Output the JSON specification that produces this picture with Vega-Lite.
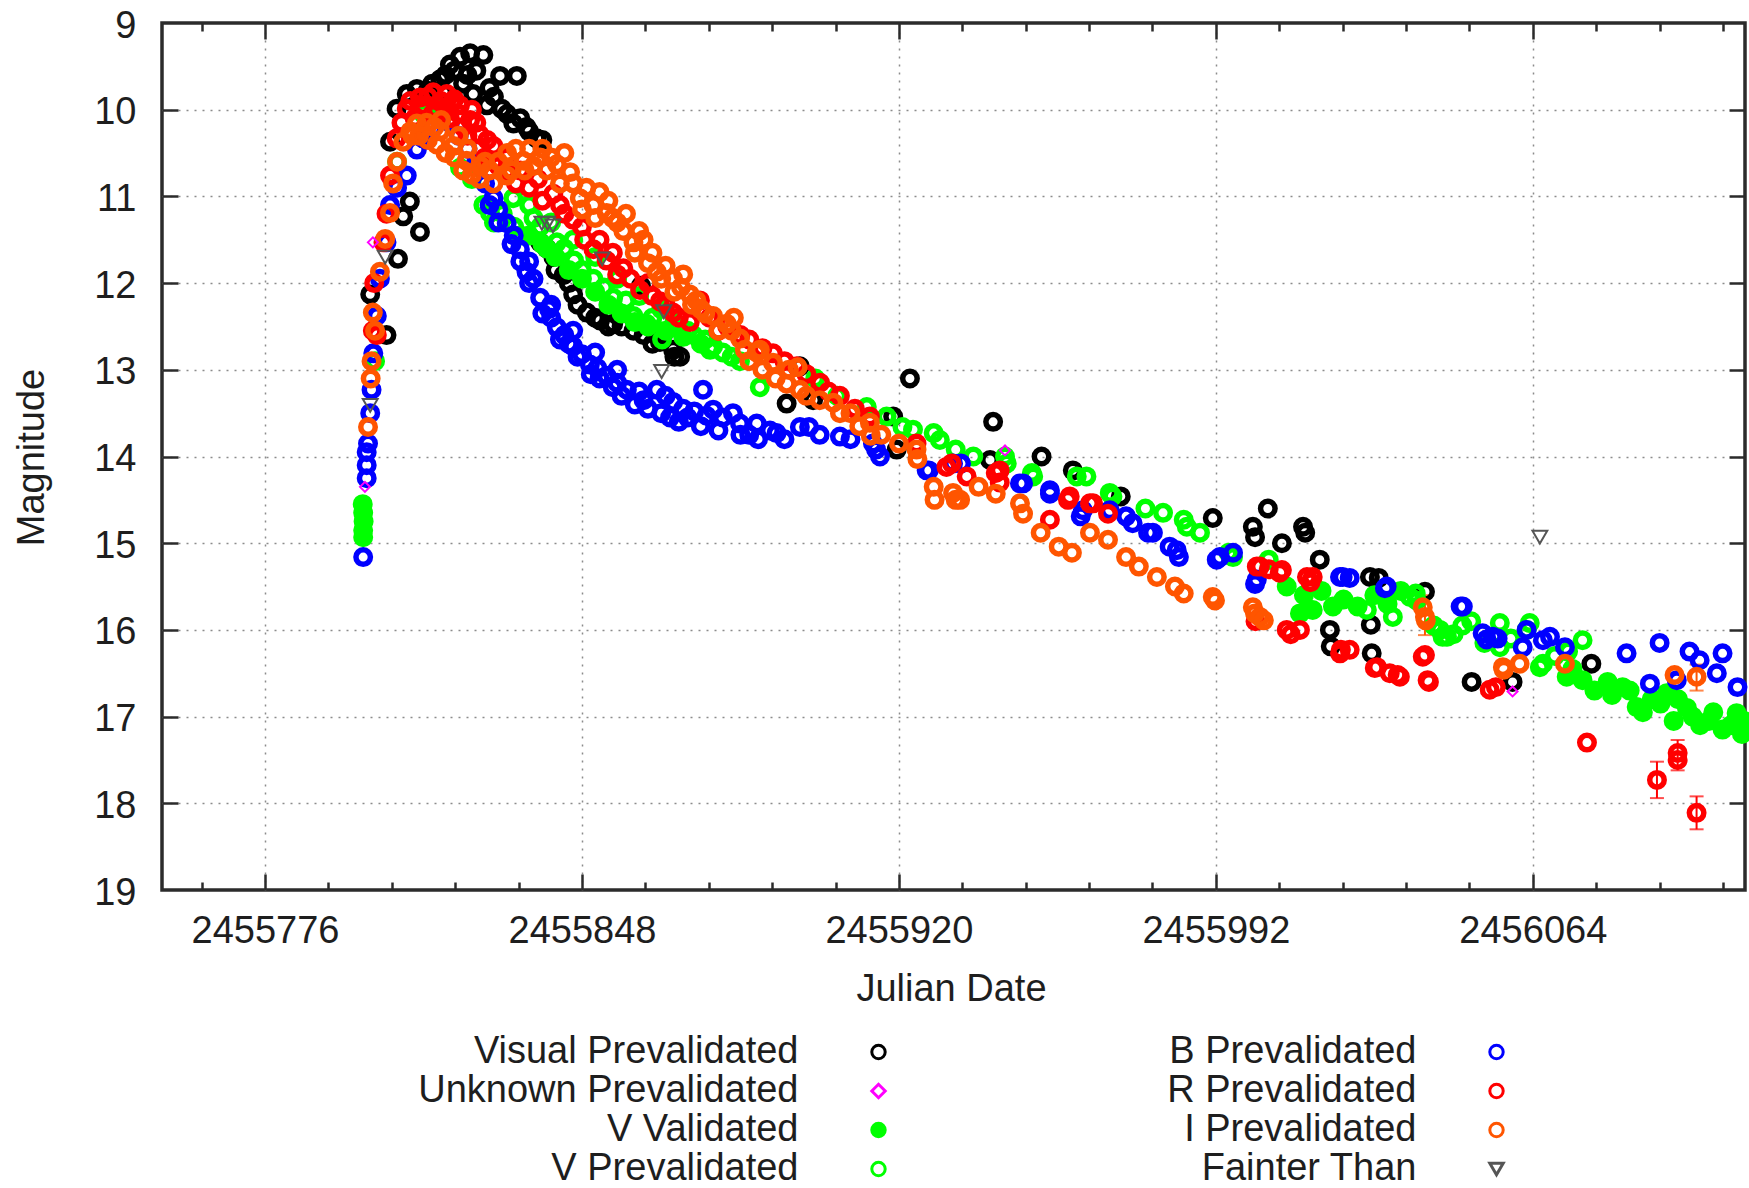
{
"$schema":"https://vega.github.io/schema/vega-lite/v6.json",
"width":1583,"height":867,
"autosize":{"type":"none"},
"padding":{"left":162,"top":23,"right":4,"bottom":298},
"background":"#ffffff",
"config":{
 "view":{"stroke":"#2b2b2b","strokeWidth":3.5},
 "axis":{"domain":false,"labelFont":"Liberation Sans","labelFontSize":38,"labelColor":"#1e1e1e","titleFont":"Liberation Sans","titleFontSize":38,"titleFontWeight":"normal","titleColor":"#1e1e1e","tickColor":"#2b2b2b","tickWidth":2.5,"gridColor":"#8c8c8c","gridDash":[2,6],"gridWidth":1.5,"gridOpacity":1,"labelOverlap":false,"labelFlush":false}
},
"datasets":{
 "ax":[{"jd":2455776,"m":10}],
 "err":[
  {"s":"R","jd":2456092.2,"lo":17.52,"hi":17.94},
  {"s":"R","jd":2456096.9,"lo":17.27,"hi":17.62},
  {"s":"R","jd":2456101.2,"lo":17.92,"hi":18.3},
  {"s":"I","jd":2456039.5,"lo":15.6,"hi":16.06},
  {"s":"I","jd":2456101.2,"lo":16.4,"hi":16.7}
 ],
 "pts":[
  {"s":"VIS","jd":2455799.9,"m":12.13},{"s":"VIS","jd":2455803.6,"m":12.6},{"s":"VIS","jd":2455804.4,"m":10.37},{"s":"VIS","jd":2455805.9,"m":9.99},
  {"s":"VIS","jd":2455806.2,"m":11.72},{"s":"VIS","jd":2455807.4,"m":11.23},{"s":"VIS","jd":2455808.2,"m":9.82},{"s":"VIS","jd":2455808.9,"m":11.06},
  {"s":"VIS","jd":2455810.5,"m":9.76},{"s":"VIS","jd":2455811.2,"m":11.41},{"s":"VIS","jd":2455813.0,"m":9.78},{"s":"VIS","jd":2455815.8,"m":9.65},
  {"s":"VIS","jd":2455816.5,"m":9.8},{"s":"VIS","jd":2455818.0,"m":9.48},{"s":"VIS","jd":2455820.3,"m":9.39},{"s":"VIS","jd":2455821.0,"m":9.7},
  {"s":"VIS","jd":2455822.6,"m":9.35},{"s":"VIS","jd":2455823.3,"m":9.82},{"s":"VIS","jd":2455825.6,"m":9.37},{"s":"VIS","jd":2455826.4,"m":9.95},
  {"s":"VIS","jd":2455829.4,"m":9.61},{"s":"VIS","jd":2455829.8,"m":9.99},{"s":"VIS","jd":2455832.4,"m":10.16},{"s":"VIS","jd":2455833.2,"m":9.61},
  {"s":"VIS","jd":2455835.4,"m":10.2},{"s":"VIS","jd":2455837.7,"m":10.33},{"s":"VIS","jd":2455838.5,"m":11.53},{"s":"VIS","jd":2455841.5,"m":11.7},
  {"s":"VIS","jd":2455843.8,"m":11.91},{"s":"VIS","jd":2455846.0,"m":12.13},{"s":"VIS","jd":2455849.1,"m":12.34},{"s":"VIS","jd":2455852.1,"m":12.43},
  {"s":"VIS","jd":2455855.1,"m":12.47},{"s":"VIS","jd":2455859.7,"m":12.55},{"s":"VIS","jd":2455861.4,"m":12.03},{"s":"VIS","jd":2455865.7,"m":12.68},
  {"s":"VIS","jd":2455866.4,"m":12.6},{"s":"VIS","jd":2455868.7,"m":12.77},{"s":"VIS","jd":2455870.3,"m":12.85},{"s":"VIS","jd":2455894.5,"m":13.39},
  {"s":"VIS","jd":2455897.5,"m":12.96},{"s":"VIS","jd":2455900.5,"m":13.35},{"s":"VIS","jd":2455918.7,"m":13.54},{"s":"VIS","jd":2455919.5,"m":13.92},
  {"s":"VIS","jd":2455922.5,"m":13.1},{"s":"VIS","jd":2455940.7,"m":14.04},{"s":"VIS","jd":2455941.4,"m":13.6},{"s":"VIS","jd":2455952.4,"m":14.0},
  {"s":"VIS","jd":2455959.5,"m":14.16},{"s":"VIS","jd":2455970.4,"m":14.46},{"s":"VIS","jd":2455991.3,"m":14.71},{"s":"VIS","jd":2456000.4,"m":14.81},
  {"s":"VIS","jd":2456000.9,"m":14.93},{"s":"VIS","jd":2456003.8,"m":14.6},{"s":"VIS","jd":2456007.0,"m":15.0},{"s":"VIS","jd":2456011.8,"m":14.81},
  {"s":"VIS","jd":2456012.3,"m":14.88},{"s":"VIS","jd":2456015.6,"m":15.19},{"s":"VIS","jd":2456017.9,"m":16.0},{"s":"VIS","jd":2456018.1,"m":16.19},
  {"s":"VIS","jd":2456027.0,"m":15.39},{"s":"VIS","jd":2456029.0,"m":15.4},{"s":"VIS","jd":2456027.2,"m":15.94},{"s":"VIS","jd":2456027.4,"m":16.27},
  {"s":"VIS","jd":2456039.5,"m":15.56},{"s":"VIS","jd":2456050.1,"m":16.6},{"s":"VIS","jd":2456059.4,"m":16.6},{"s":"VIS","jd":2456077.3,"m":16.39},
  {"s":"VIS","jd":2455812.0,"m":9.85},{"s":"VIS","jd":2455814.0,"m":9.7},{"s":"VIS","jd":2455817.0,"m":9.6},{"s":"VIS","jd":2455819.0,"m":9.55},
  {"s":"VIS","jd":2455822.0,"m":9.6},{"s":"VIS","jd":2455824.0,"m":9.55},{"s":"VIS","jd":2455827.0,"m":9.75},{"s":"VIS","jd":2455828.0,"m":9.85},
  {"s":"VIS","jd":2455831.0,"m":10.05},{"s":"VIS","jd":2455834.0,"m":10.1},{"s":"VIS","jd":2455836.0,"m":10.25},{"s":"VIS","jd":2455839.0,"m":10.35},
  {"s":"VIS","jd":2455840.0,"m":11.6},{"s":"VIS","jd":2455842.0,"m":11.85},{"s":"VIS","jd":2455845.0,"m":12.0},{"s":"VIS","jd":2455847.0,"m":12.25},
  {"s":"VIS","jd":2455851.0,"m":12.4},{"s":"VIS","jd":2455854.0,"m":12.5},{"s":"VIS","jd":2455857.0,"m":12.5},{"s":"VIS","jd":2455862.0,"m":12.6},
  {"s":"VIS","jd":2455864.0,"m":12.7},{"s":"VIS","jd":2455869.0,"m":12.85},
  {"s":"UNK","jd":2455798.7,"m":14.35},{"s":"UNK","jd":2455800.5,"m":11.53},{"s":"UNK","jd":2455944.1,"m":13.93},{"s":"UNK","jd":2456059.4,"m":16.71},
  {"s":"VVAL","jd":2455798.2,"m":14.55},{"s":"VVAL","jd":2455798.3,"m":14.65},{"s":"VVAL","jd":2455798.4,"m":14.75},{"s":"VVAL","jd":2455798.3,"m":14.85},
  {"s":"VVAL","jd":2455798.3,"m":14.93},{"s":"VVAL","jd":2455836.0,"m":11.45},{"s":"VVAL","jd":2455839.0,"m":11.55},{"s":"VVAL","jd":2455842.0,"m":11.7},
  {"s":"VVAL","jd":2455845.0,"m":11.85},{"s":"VVAL","jd":2455848.0,"m":11.95},{"s":"VVAL","jd":2455851.0,"m":12.1},{"s":"VVAL","jd":2455854.0,"m":12.25},
  {"s":"VVAL","jd":2455857.0,"m":12.35},{"s":"VVAL","jd":2455860.0,"m":12.45},{"s":"VVAL","jd":2455863.0,"m":12.5},{"s":"VVAL","jd":2455867.0,"m":12.55},
  {"s":"VVAL","jd":2455871.0,"m":12.62},{"s":"VVAL","jd":2455875.0,"m":12.7},{"s":"VVAL","jd":2456008.1,"m":15.5},{"s":"VVAL","jd":2456011.1,"m":15.81},
  {"s":"VVAL","jd":2456014.0,"m":15.77},{"s":"VVAL","jd":2456018.6,"m":15.73},{"s":"VVAL","jd":2456024.2,"m":15.73},{"s":"VVAL","jd":2456071.7,"m":16.54},
  {"s":"VVAL","jd":2456075.3,"m":16.58},{"s":"VVAL","jd":2456081.0,"m":16.6},{"s":"VVAL","jd":2456084.4,"m":16.66},{"s":"VVAL","jd":2456087.6,"m":16.89},
  {"s":"VVAL","jd":2456094.4,"m":16.73},{"s":"VVAL","jd":2456097.0,"m":16.8},{"s":"VVAL","jd":2456100.3,"m":17.0},{"s":"VVAL","jd":2456104.0,"m":17.05},
  {"s":"VVAL","jd":2456107.1,"m":17.15},{"s":"VVAL","jd":2456110.3,"m":16.96},{"s":"VVAL","jd":2456111.5,"m":17.2},
  {"s":"VVAL","jd":2456073.0,"m":16.45},{"s":"VVAL","jd":2456078.0,"m":16.7},{"s":"VVAL","jd":2456082.0,"m":16.75},{"s":"VVAL","jd":2456086.0,"m":16.7},
  {"s":"VVAL","jd":2456089.0,"m":16.95},{"s":"VVAL","jd":2456091.0,"m":16.8},{"s":"VVAL","jd":2456093.0,"m":16.85},{"s":"VVAL","jd":2456096.0,"m":17.05},
  {"s":"VVAL","jd":2456099.0,"m":16.9},{"s":"VVAL","jd":2456102.0,"m":17.1},{"s":"VVAL","jd":2456105.0,"m":16.95},{"s":"VVAL","jd":2456109.0,"m":17.1},
  {"s":"VVAL","jd":2456112.0,"m":17.05},{"s":"VVAL","jd":2456012.0,"m":15.6},{"s":"VVAL","jd":2456016.0,"m":15.55},{"s":"VVAL","jd":2456021.0,"m":15.65},
  {"s":"VVAL","jd":2456028.0,"m":15.6},{"s":"VVAL","jd":2456031.0,"m":15.7},{"s":"VVAL","jd":2456034.0,"m":15.55},
  {"s":"VPRE","jd":2455801.0,"m":12.9},{"s":"VPRE","jd":2455806.0,"m":10.6},{"s":"VPRE","jd":2455812.0,"m":10.05},{"s":"VPRE","jd":2455816.0,"m":10.0},
  {"s":"VPRE","jd":2455820.3,"m":10.67},{"s":"VPRE","jd":2455823.0,"m":10.8},{"s":"VPRE","jd":2455825.6,"m":11.1},{"s":"VPRE","jd":2455827.1,"m":11.19},
  {"s":"VPRE","jd":2455832.4,"m":11.02},{"s":"VPRE","jd":2455832.6,"m":11.35},{"s":"VPRE","jd":2455836.0,"m":11.1},{"s":"VPRE","jd":2455838.5,"m":11.35},
  {"s":"VPRE","jd":2455841.0,"m":11.3},{"s":"VPRE","jd":2455842.3,"m":11.53},{"s":"VPRE","jd":2455846.0,"m":11.5},{"s":"VPRE","jd":2455846.2,"m":11.74},
  {"s":"VPRE","jd":2455850.6,"m":11.95},{"s":"VPRE","jd":2455851.0,"m":11.7},{"s":"VPRE","jd":2455855.1,"m":12.17},{"s":"VPRE","jd":2455856.0,"m":11.95},
  {"s":"VPRE","jd":2455859.7,"m":12.38},{"s":"VPRE","jd":2455861.0,"m":12.15},{"s":"VPRE","jd":2455862.7,"m":12.47},{"s":"VPRE","jd":2455866.0,"m":12.3},
  {"s":"VPRE","jd":2455866.2,"m":12.65},{"s":"VPRE","jd":2455868.7,"m":12.51},{"s":"VPRE","jd":2455873.3,"m":12.6},{"s":"VPRE","jd":2455877.1,"m":12.77},
  {"s":"VPRE","jd":2455877.8,"m":12.73},{"s":"VPRE","jd":2455883.9,"m":12.9},{"s":"VPRE","jd":2455888.4,"m":13.2},{"s":"VPRE","jd":2455901.0,"m":13.1},
  {"s":"VPRE","jd":2455906.0,"m":13.3},{"s":"VPRE","jd":2455912.7,"m":13.43},{"s":"VPRE","jd":2455917.2,"m":13.54},{"s":"VPRE","jd":2455920.8,"m":13.66},
  {"s":"VPRE","jd":2455923.2,"m":13.69},{"s":"VPRE","jd":2455927.9,"m":13.73},{"s":"VPRE","jd":2455929.3,"m":13.81},{"s":"VPRE","jd":2455932.9,"m":13.92},
  {"s":"VPRE","jd":2455936.9,"m":14.0},{"s":"VPRE","jd":2455944.1,"m":14.0},{"s":"VPRE","jd":2455944.5,"m":14.08},{"s":"VPRE","jd":2455950.2,"m":14.19},
  {"s":"VPRE","jd":2455950.5,"m":14.23},{"s":"VPRE","jd":2455960.4,"m":14.23},{"s":"VPRE","jd":2455962.6,"m":14.23},{"s":"VPRE","jd":2455967.9,"m":14.42},
  {"s":"VPRE","jd":2455968.5,"m":14.46},{"s":"VPRE","jd":2455976.0,"m":14.6},{"s":"VPRE","jd":2455980.0,"m":14.65},{"s":"VPRE","jd":2455984.7,"m":14.73},
  {"s":"VPRE","jd":2455985.4,"m":14.81},{"s":"VPRE","jd":2455988.4,"m":14.88},{"s":"VPRE","jd":2455994.9,"m":15.11},{"s":"VPRE","jd":2455995.9,"m":15.16},
  {"s":"VPRE","jd":2456004.0,"m":15.19},{"s":"VPRE","jd":2456026.3,"m":15.77},{"s":"VPRE","jd":2456032.2,"m":15.85},{"s":"VPRE","jd":2456036.1,"m":15.62},
  {"s":"VPRE","jd":2456037.4,"m":15.58},{"s":"VPRE","jd":2456037.6,"m":15.66},{"s":"VPRE","jd":2456041.5,"m":15.95},{"s":"VPRE","jd":2456042.9,"m":16.0},
  {"s":"VPRE","jd":2456043.5,"m":16.08},{"s":"VPRE","jd":2456044.5,"m":16.08},{"s":"VPRE","jd":2456048.0,"m":15.95},{"s":"VPRE","jd":2456056.5,"m":15.92},
  {"s":"VPRE","jd":2456056.5,"m":16.2},{"s":"VPRE","jd":2456062.6,"m":16.0},{"s":"VPRE","jd":2456063.3,"m":15.92},{"s":"VPRE","jd":2456065.6,"m":16.43},
  {"s":"VPRE","jd":2456066.3,"m":16.39},{"s":"VPRE","jd":2456075.3,"m":16.12},
  {"s":"VPRE","jd":2455828.0,"m":11.3},{"s":"VPRE","jd":2455830.0,"m":11.2},{"s":"VPRE","jd":2455834.0,"m":11.45},{"s":"VPRE","jd":2455837.0,"m":11.25},
  {"s":"VPRE","jd":2455840.0,"m":11.6},{"s":"VPRE","jd":2455844.0,"m":11.6},{"s":"VPRE","jd":2455848.0,"m":11.85},{"s":"VPRE","jd":2455853.0,"m":12.05},
  {"s":"VPRE","jd":2455858.0,"m":12.2},{"s":"VPRE","jd":2455864.0,"m":12.4},{"s":"VPRE","jd":2455869.0,"m":12.45},{"s":"VPRE","jd":2455872.0,"m":12.55},
  {"s":"VPRE","jd":2455876.0,"m":12.65},{"s":"VPRE","jd":2455880.0,"m":12.8},{"s":"VPRE","jd":2455882.0,"m":12.85},{"s":"VPRE","jd":2456046.0,"m":16.05},
  {"s":"VPRE","jd":2456050.0,"m":15.9},{"s":"VPRE","jd":2456053.0,"m":16.15},{"s":"VPRE","jd":2456059.0,"m":16.1},{"s":"VPRE","jd":2456069.0,"m":16.3},
  {"s":"VPRE","jd":2456072.0,"m":16.25},
  {"s":"B","jd":2455798.3,"m":15.16},{"s":"B","jd":2455799.1,"m":14.25},{"s":"B","jd":2455799.1,"m":14.1},{"s":"B","jd":2455799.1,"m":13.95},
  {"s":"B","jd":2455799.4,"m":13.85},{"s":"B","jd":2455799.9,"m":13.5},{"s":"B","jd":2455800.2,"m":13.23},{"s":"B","jd":2455800.6,"m":12.81},
  {"s":"B","jd":2455801.4,"m":12.38},{"s":"B","jd":2455802.1,"m":11.95},{"s":"B","jd":2455803.6,"m":11.53},{"s":"B","jd":2455804.4,"m":11.1},
  {"s":"B","jd":2455806.0,"m":10.9},{"s":"B","jd":2455808.2,"m":10.76},{"s":"B","jd":2455810.5,"m":10.46},{"s":"B","jd":2455811.9,"m":10.33},
  {"s":"B","jd":2455814.0,"m":10.22},{"s":"B","jd":2455816.0,"m":10.12},{"s":"B","jd":2455818.0,"m":10.15},{"s":"B","jd":2455820.0,"m":10.3},
  {"s":"B","jd":2455822.0,"m":10.45},{"s":"B","jd":2455824.0,"m":10.6},{"s":"B","jd":2455826.0,"m":10.85},{"s":"B","jd":2455827.9,"m":11.02},
  {"s":"B","jd":2455829.0,"m":11.15},{"s":"B","jd":2455830.9,"m":11.31},{"s":"B","jd":2455832.5,"m":11.45},{"s":"B","jd":2455833.9,"m":11.61},
  {"s":"B","jd":2455835.4,"m":11.87},{"s":"B","jd":2455836.0,"m":11.75},{"s":"B","jd":2455837.0,"m":11.95},{"s":"B","jd":2455838.5,"m":12.17},
  {"s":"B","jd":2455840.5,"m":12.3},{"s":"B","jd":2455841.0,"m":12.25},{"s":"B","jd":2455842.3,"m":12.51},{"s":"B","jd":2455844.0,"m":12.6},
  {"s":"B","jd":2455846.0,"m":12.73},{"s":"B","jd":2455846.0,"m":12.55},{"s":"B","jd":2455848.0,"m":12.82},{"s":"B","jd":2455849.8,"m":12.94},
  {"s":"B","jd":2455851.0,"m":12.8},{"s":"B","jd":2455851.5,"m":12.98},{"s":"B","jd":2455853.6,"m":13.07},{"s":"B","jd":2455856.0,"m":13.15},
  {"s":"B","jd":2455856.0,"m":13.0},{"s":"B","jd":2455858.2,"m":13.23},{"s":"B","jd":2455861.0,"m":13.25},{"s":"B","jd":2455862.0,"m":13.35},
  {"s":"B","jd":2455865.0,"m":13.23},{"s":"B","jd":2455867.0,"m":13.3},{"s":"B","jd":2455868.0,"m":13.55},{"s":"B","jd":2455868.7,"m":13.37},
  {"s":"B","jd":2455871.0,"m":13.45},{"s":"B","jd":2455873.5,"m":13.48},{"s":"B","jd":2455875.5,"m":13.23},{"s":"B","jd":2455876.3,"m":13.53},
  {"s":"B","jd":2455877.8,"m":13.46},{"s":"B","jd":2455880.0,"m":13.55},{"s":"B","jd":2455882.3,"m":13.5},{"s":"B","jd":2455883.9,"m":13.62},
  {"s":"B","jd":2455886.0,"m":13.75},{"s":"B","jd":2455887.7,"m":13.62},{"s":"B","jd":2455890.7,"m":13.7},{"s":"B","jd":2455892.2,"m":13.73},
  {"s":"B","jd":2455894.0,"m":13.8},{"s":"B","jd":2455897.5,"m":13.66},{"s":"B","jd":2455899.6,"m":13.66},{"s":"B","jd":2455902.0,"m":13.75},
  {"s":"B","jd":2455906.6,"m":13.77},{"s":"B","jd":2455909.0,"m":13.8},{"s":"B","jd":2455914.1,"m":13.85},{"s":"B","jd":2455914.8,"m":13.92},
  {"s":"B","jd":2455915.7,"m":14.0},{"s":"B","jd":2455926.3,"m":14.16},{"s":"B","jd":2455926.8,"m":14.16},{"s":"B","jd":2455932.3,"m":14.08},
  {"s":"B","jd":2455934.1,"m":14.08},{"s":"B","jd":2455947.5,"m":14.31},{"s":"B","jd":2455948.2,"m":14.31},{"s":"B","jd":2455954.3,"m":14.39},
  {"s":"B","jd":2455954.3,"m":14.43},{"s":"B","jd":2455961.3,"m":14.69},{"s":"B","jd":2455961.8,"m":14.62},{"s":"B","jd":2455967.9,"m":14.62},
  {"s":"B","jd":2455971.6,"m":14.69},{"s":"B","jd":2455973.1,"m":14.77},{"s":"B","jd":2455976.6,"m":14.88},{"s":"B","jd":2455977.7,"m":14.88},
  {"s":"B","jd":2455981.5,"m":15.04},{"s":"B","jd":2455983.1,"m":15.08},{"s":"B","jd":2455983.6,"m":15.16},{"s":"B","jd":2455992.2,"m":15.19},
  {"s":"B","jd":2455992.9,"m":15.16},{"s":"B","jd":2455995.9,"m":15.11},{"s":"B","jd":2456000.9,"m":15.47},{"s":"B","jd":2456001.3,"m":15.42},
  {"s":"B","jd":2456020.2,"m":15.39},{"s":"B","jd":2456020.8,"m":15.39},{"s":"B","jd":2456022.4,"m":15.4},{"s":"B","jd":2456030.4,"m":15.52},
  {"s":"B","jd":2456030.8,"m":15.5},{"s":"B","jd":2456047.6,"m":15.73},{"s":"B","jd":2456048.1,"m":15.73},{"s":"B","jd":2456052.6,"m":16.04},
  {"s":"B","jd":2456053.5,"m":16.11},{"s":"B","jd":2456054.9,"m":16.08},{"s":"B","jd":2456056.0,"m":16.1},{"s":"B","jd":2456061.7,"m":16.2},
  {"s":"B","jd":2456062.6,"m":16.0},{"s":"B","jd":2456066.3,"m":16.12},{"s":"B","jd":2456067.9,"m":16.08},{"s":"B","jd":2456071.3,"m":16.2},
  {"s":"B","jd":2456085.3,"m":16.27},{"s":"B","jd":2456090.6,"m":16.62},{"s":"B","jd":2456092.8,"m":16.15},{"s":"B","jd":2456096.7,"m":16.58},
  {"s":"B","jd":2456099.6,"m":16.25},{"s":"B","jd":2456101.9,"m":16.35},{"s":"B","jd":2456105.8,"m":16.5},{"s":"B","jd":2456107.1,"m":16.27},
  {"s":"B","jd":2456110.5,"m":16.66},
  {"s":"B","jd":2455827.0,"m":11.1},{"s":"B","jd":2455829.0,"m":11.3},{"s":"B","jd":2455832.0,"m":11.55},{"s":"B","jd":2455834.0,"m":11.75},
  {"s":"B","jd":2455836.0,"m":12.0},{"s":"B","jd":2455839.0,"m":12.35},{"s":"B","jd":2455841.0,"m":12.4},{"s":"B","jd":2455843.0,"m":12.65},
  {"s":"B","jd":2455845.0,"m":12.7},{"s":"B","jd":2455847.0,"m":12.85},{"s":"B","jd":2455850.0,"m":13.05},{"s":"B","jd":2455852.0,"m":13.1},
  {"s":"B","jd":2455855.0,"m":13.2},{"s":"B","jd":2455857.0,"m":13.3},{"s":"B","jd":2455860.0,"m":13.4},{"s":"B","jd":2455863.0,"m":13.45},
  {"s":"B","jd":2455866.0,"m":13.5},{"s":"B","jd":2455870.0,"m":13.6},{"s":"B","jd":2455872.0,"m":13.55},{"s":"B","jd":2455875.0,"m":13.65},
  {"s":"B","jd":2455879.0,"m":13.7},{"s":"B","jd":2455884.0,"m":13.75},{"s":"B","jd":2455888.0,"m":13.8},
  {"s":"R","jd":2455800.5,"m":12.55},{"s":"R","jd":2455800.8,"m":12.0},{"s":"R","jd":2455801.4,"m":12.6},{"s":"R","jd":2455802.9,"m":11.53},
  {"s":"R","jd":2455803.6,"m":11.2},{"s":"R","jd":2455804.4,"m":10.76},{"s":"R","jd":2455805.9,"m":10.33},{"s":"R","jd":2455807.0,"m":10.15},
  {"s":"R","jd":2455808.2,"m":9.99},{"s":"R","jd":2455811.2,"m":9.86},{"s":"R","jd":2455812.0,"m":9.95},{"s":"R","jd":2455814.0,"m":10.05},
  {"s":"R","jd":2455814.2,"m":9.8},{"s":"R","jd":2455816.0,"m":9.9},{"s":"R","jd":2455817.3,"m":9.82},{"s":"R","jd":2455818.0,"m":10.1},
  {"s":"R","jd":2455819.0,"m":9.88},{"s":"R","jd":2455820.3,"m":9.95},{"s":"R","jd":2455821.0,"m":10.2},{"s":"R","jd":2455822.6,"m":10.12},
  {"s":"R","jd":2455823.0,"m":10.0},{"s":"R","jd":2455824.8,"m":10.29},{"s":"R","jd":2455826.0,"m":10.55},{"s":"R","jd":2455827.9,"m":10.42},
  {"s":"R","jd":2455829.0,"m":10.65},{"s":"R","jd":2455830.9,"m":10.55},{"s":"R","jd":2455834.0,"m":10.7},{"s":"R","jd":2455838.0,"m":10.8},
  {"s":"R","jd":2455841.5,"m":10.97},{"s":"R","jd":2455846.0,"m":11.27},{"s":"R","jd":2455848.0,"m":11.35},{"s":"R","jd":2455850.6,"m":11.61},
  {"s":"R","jd":2455853.6,"m":11.74},{"s":"R","jd":2455855.0,"m":11.65},{"s":"R","jd":2455857.4,"m":11.83},{"s":"R","jd":2455861.2,"m":12.08},
  {"s":"R","jd":2455863.0,"m":12.0},{"s":"R","jd":2455865.7,"m":12.21},{"s":"R","jd":2455868.7,"m":12.34},{"s":"R","jd":2455872.5,"m":12.45},
  {"s":"R","jd":2455874.8,"m":12.2},{"s":"R","jd":2455877.0,"m":12.4},{"s":"R","jd":2455881.0,"m":12.5},{"s":"R","jd":2455886.0,"m":12.65},
  {"s":"R","jd":2455891.4,"m":12.81},{"s":"R","jd":2455896.8,"m":12.96},{"s":"R","jd":2455902.1,"m":13.15},{"s":"R","jd":2455906.6,"m":13.3},
  {"s":"R","jd":2455913.4,"m":13.54},{"s":"R","jd":2455924.0,"m":13.85},{"s":"R","jd":2455930.8,"m":14.12},{"s":"R","jd":2455932.0,"m":14.08},
  {"s":"R","jd":2455935.4,"m":14.23},{"s":"R","jd":2455942.0,"m":14.19},{"s":"R","jd":2455942.9,"m":14.16},{"s":"R","jd":2455942.9,"m":14.3},
  {"s":"R","jd":2455954.3,"m":14.73},{"s":"R","jd":2455958.4,"m":14.5},{"s":"R","jd":2455958.8,"m":14.46},{"s":"R","jd":2455963.4,"m":14.54},
  {"s":"R","jd":2455964.1,"m":14.54},{"s":"R","jd":2455967.5,"m":14.66},{"s":"R","jd":2456001.0,"m":15.9},{"s":"R","jd":2456001.3,"m":15.27},
  {"s":"R","jd":2456002.0,"m":15.27},{"s":"R","jd":2456004.0,"m":15.3},{"s":"R","jd":2456006.5,"m":15.34},{"s":"R","jd":2456007.0,"m":15.31},
  {"s":"R","jd":2456012.7,"m":15.39},{"s":"R","jd":2456013.5,"m":15.45},{"s":"R","jd":2456014.0,"m":15.39},{"s":"R","jd":2456008.1,"m":16.0},
  {"s":"R","jd":2456009.0,"m":16.05},{"s":"R","jd":2456011.1,"m":16.0},{"s":"R","jd":2456020.2,"m":16.27},{"s":"R","jd":2456020.4,"m":16.23},
  {"s":"R","jd":2456022.4,"m":16.23},{"s":"R","jd":2456028.1,"m":16.44},{"s":"R","jd":2456028.6,"m":16.43},{"s":"R","jd":2456031.5,"m":16.5},
  {"s":"R","jd":2456033.3,"m":16.52},{"s":"R","jd":2456033.8,"m":16.54},{"s":"R","jd":2456039.0,"m":16.31},{"s":"R","jd":2456039.5,"m":16.29},
  {"s":"R","jd":2456040.1,"m":16.58},{"s":"R","jd":2456040.4,"m":16.6},{"s":"R","jd":2456054.2,"m":16.69},{"s":"R","jd":2456055.6,"m":16.66},
  {"s":"R","jd":2456076.3,"m":17.3},{"s":"R","jd":2456092.2,"m":17.73},{"s":"R","jd":2456096.9,"m":17.42},{"s":"R","jd":2456096.9,"m":17.5},
  {"s":"R","jd":2456101.2,"m":18.11},
  {"s":"R","jd":2455809.0,"m":9.9},{"s":"R","jd":2455810.0,"m":10.1},{"s":"R","jd":2455813.0,"m":9.85},{"s":"R","jd":2455815.0,"m":10.0},
  {"s":"R","jd":2455818.5,"m":9.92},{"s":"R","jd":2455820.0,"m":10.05},{"s":"R","jd":2455822.0,"m":10.3},{"s":"R","jd":2455824.0,"m":10.15},
  {"s":"R","jd":2455826.5,"m":10.35},{"s":"R","jd":2455828.0,"m":10.6},{"s":"R","jd":2455831.0,"m":10.7},{"s":"R","jd":2455833.0,"m":10.85},
  {"s":"R","jd":2455836.0,"m":10.9},{"s":"R","jd":2455839.0,"m":11.05},{"s":"R","jd":2455843.0,"m":11.1},{"s":"R","jd":2455844.0,"m":11.2},
  {"s":"R","jd":2455848.5,"m":11.5},{"s":"R","jd":2455852.0,"m":11.5},{"s":"R","jd":2455856.0,"m":11.9},{"s":"R","jd":2455859.0,"m":11.95},
  {"s":"R","jd":2455864.0,"m":12.15},{"s":"R","jd":2455867.0,"m":12.25},{"s":"R","jd":2455870.0,"m":12.4},{"s":"R","jd":2455879.0,"m":12.55},
  {"s":"R","jd":2455884.0,"m":12.6},{"s":"R","jd":2455889.0,"m":12.75},{"s":"R","jd":2455894.0,"m":12.9},{"s":"R","jd":2455899.0,"m":13.05},
  {"s":"R","jd":2455904.0,"m":13.25},{"s":"R","jd":2455910.0,"m":13.45},
  {"s":"I","jd":2455799.4,"m":13.66},{"s":"I","jd":2455800.0,"m":13.1},{"s":"I","jd":2455800.2,"m":12.9},{"s":"I","jd":2455800.5,"m":12.34},
  {"s":"I","jd":2455801.0,"m":12.55},{"s":"I","jd":2455802.1,"m":11.87},{"s":"I","jd":2455803.3,"m":11.49},{"s":"I","jd":2455804.4,"m":11.19},
  {"s":"I","jd":2455805.1,"m":10.85},{"s":"I","jd":2455806.0,"m":10.6},{"s":"I","jd":2455807.4,"m":10.37},{"s":"I","jd":2455809.0,"m":10.25},
  {"s":"I","jd":2455810.5,"m":10.16},{"s":"I","jd":2455812.7,"m":10.15},{"s":"I","jd":2455814.5,"m":10.2},{"s":"I","jd":2455815.8,"m":10.25},
  {"s":"I","jd":2455816.0,"m":10.12},{"s":"I","jd":2455818.8,"m":10.42},{"s":"I","jd":2455820.0,"m":10.3},{"s":"I","jd":2455821.8,"m":10.59},
  {"s":"I","jd":2455822.0,"m":10.45},{"s":"I","jd":2455824.8,"m":10.8},{"s":"I","jd":2455826.0,"m":10.6},{"s":"I","jd":2455827.9,"m":10.85},
  {"s":"I","jd":2455830.9,"m":10.76},{"s":"I","jd":2455832.0,"m":10.7},{"s":"I","jd":2455834.7,"m":10.59},{"s":"I","jd":2455836.0,"m":10.45},
  {"s":"I","jd":2455838.5,"m":10.55},{"s":"I","jd":2455840.0,"m":10.7},{"s":"I","jd":2455842.3,"m":10.63},{"s":"I","jd":2455844.0,"m":10.5},
  {"s":"I","jd":2455845.3,"m":10.72},{"s":"I","jd":2455847.5,"m":11.02},{"s":"I","jd":2455849.0,"m":10.9},{"s":"I","jd":2455850.6,"m":11.1},
  {"s":"I","jd":2455852.0,"m":10.95},{"s":"I","jd":2455853.6,"m":11.19},{"s":"I","jd":2455855.0,"m":11.25},{"s":"I","jd":2455857.4,"m":11.4},
  {"s":"I","jd":2455859.7,"m":11.53},{"s":"I","jd":2455861.0,"m":11.4},{"s":"I","jd":2455863.0,"m":11.77},{"s":"I","jd":2455865.0,"m":11.87},
  {"s":"I","jd":2455867.0,"m":11.8},{"s":"I","jd":2455868.7,"m":11.95},{"s":"I","jd":2455870.5,"m":12.05},{"s":"I","jd":2455872.5,"m":12.13},
  {"s":"I","jd":2455874.0,"m":12.2},{"s":"I","jd":2455876.0,"m":12.35},{"s":"I","jd":2455877.8,"m":12.38},{"s":"I","jd":2455880.9,"m":12.47},
  {"s":"I","jd":2455882.0,"m":12.55},{"s":"I","jd":2455883.9,"m":12.64},{"s":"I","jd":2455885.0,"m":12.77},{"s":"I","jd":2455887.7,"m":12.8},
  {"s":"I","jd":2455888.4,"m":12.77},{"s":"I","jd":2455891.4,"m":12.92},{"s":"I","jd":2455894.5,"m":13.16},{"s":"I","jd":2455897.0,"m":12.97},
  {"s":"I","jd":2455897.5,"m":13.23},{"s":"I","jd":2455905.1,"m":13.38},{"s":"I","jd":2455906.6,"m":13.5},{"s":"I","jd":2455913.4,"m":13.61},
  {"s":"I","jd":2455913.6,"m":13.76},{"s":"I","jd":2455924.0,"m":13.92},{"s":"I","jd":2455924.2,"m":14.03},{"s":"I","jd":2455927.9,"m":14.35},
  {"s":"I","jd":2455928.1,"m":14.5},{"s":"I","jd":2455932.3,"m":14.42},{"s":"I","jd":2455932.9,"m":14.5},{"s":"I","jd":2455933.9,"m":14.5},
  {"s":"I","jd":2455938.1,"m":14.35},{"s":"I","jd":2455942.0,"m":14.43},{"s":"I","jd":2455947.5,"m":14.54},{"s":"I","jd":2455948.2,"m":14.66},
  {"s":"I","jd":2455952.2,"m":14.88},{"s":"I","jd":2455956.3,"m":15.04},{"s":"I","jd":2455959.3,"m":15.11},{"s":"I","jd":2455963.4,"m":14.88},
  {"s":"I","jd":2455967.5,"m":14.96},{"s":"I","jd":2455971.6,"m":15.16},{"s":"I","jd":2455974.5,"m":15.27},{"s":"I","jd":2455978.6,"m":15.39},
  {"s":"I","jd":2455982.7,"m":15.5},{"s":"I","jd":2455984.7,"m":15.58},{"s":"I","jd":2455991.3,"m":15.62},{"s":"I","jd":2455991.8,"m":15.66},
  {"s":"I","jd":2456000.4,"m":15.74},{"s":"I","jd":2456000.9,"m":15.81},{"s":"I","jd":2456002.0,"m":15.85},{"s":"I","jd":2456002.9,"m":15.89},
  {"s":"I","jd":2456039.0,"m":15.74},{"s":"I","jd":2456039.5,"m":15.85},{"s":"I","jd":2456039.7,"m":15.89},{"s":"I","jd":2456057.2,"m":16.43},
  {"s":"I","jd":2456057.4,"m":16.46},{"s":"I","jd":2456061.0,"m":16.39},{"s":"I","jd":2456071.3,"m":16.39},{"s":"I","jd":2456096.2,"m":16.52},
  {"s":"I","jd":2456101.2,"m":16.54},
  {"s":"I","jd":2455809.5,"m":10.3},{"s":"I","jd":2455811.0,"m":10.3},{"s":"I","jd":2455813.0,"m":10.35},{"s":"I","jd":2455815.0,"m":10.4},
  {"s":"I","jd":2455817.0,"m":10.5},{"s":"I","jd":2455819.0,"m":10.55},{"s":"I","jd":2455821.0,"m":10.7},{"s":"I","jd":2455823.0,"m":10.75},
  {"s":"I","jd":2455825.0,"m":10.65},{"s":"I","jd":2455827.0,"m":10.7},{"s":"I","jd":2455829.0,"m":10.6},{"s":"I","jd":2455831.0,"m":10.5},
  {"s":"I","jd":2455833.0,"m":10.45},{"s":"I","jd":2455835.0,"m":10.7},{"s":"I","jd":2455837.0,"m":10.65},{"s":"I","jd":2455839.0,"m":10.45},
  {"s":"I","jd":2455841.0,"m":10.55},{"s":"I","jd":2455843.0,"m":10.85},{"s":"I","jd":2455846.0,"m":10.85},{"s":"I","jd":2455848.0,"m":11.15},
  {"s":"I","jd":2455851.0,"m":11.25},{"s":"I","jd":2455854.0,"m":11.05},{"s":"I","jd":2455856.0,"m":11.3},{"s":"I","jd":2455858.0,"m":11.2},
  {"s":"I","jd":2455860.0,"m":11.65},{"s":"I","jd":2455862.0,"m":11.5},{"s":"I","jd":2455864.0,"m":11.65},{"s":"I","jd":2455866.0,"m":11.95},
  {"s":"I","jd":2455869.0,"m":12.1},{"s":"I","jd":2455871.0,"m":11.9},{"s":"I","jd":2455873.0,"m":12.25},{"s":"I","jd":2455875.0,"m":12.3},
  {"s":"I","jd":2455879.0,"m":12.55},{"s":"I","jd":2455882.5,"m":12.4},{"s":"I","jd":2455886.0,"m":12.9},{"s":"I","jd":2455889.0,"m":13.0},
  {"s":"I","jd":2455892.0,"m":13.1},{"s":"I","jd":2455895.0,"m":13.0},{"s":"I","jd":2455899.0,"m":13.3},{"s":"I","jd":2455902.0,"m":13.35},
  {"s":"I","jd":2455909.0,"m":13.5},{"s":"I","jd":2455911.0,"m":13.65},{"s":"I","jd":2455916.0,"m":13.75},{"s":"I","jd":2455920.0,"m":13.85},
  {"s":"FT","jd":2455799.9,"m":13.41},{"s":"FT","jd":2455803.3,"m":11.7},{"s":"FT","jd":2455838.9,"m":11.31},{"s":"FT","jd":2455840.2,"m":11.31},
  {"s":"FT","jd":2455841.4,"m":11.34},{"s":"FT","jd":2455852.6,"m":11.72},{"s":"FT","jd":2455866.1,"m":13.02},{"s":"FT","jd":2455866.6,"m":12.33},
  {"s":"FT","jd":2456065.6,"m":14.93}
 ]
},
"layer":[
 {"data":{"name":"ax"},"mark":{"type":"point","opacity":0},
  "encoding":{
   "x":{"field":"jd","type":"quantitative","scale":{"domain":[2455752.6,2456112.2],"nice":false,"zero":false},
        "axis":{"orient":"bottom","values":[2455776,2455848,2455920,2455992,2456064],"labels":false,"ticks":true,"tickSize":-16,"grid":true,"title":null}},
   "y":{"field":"m","type":"quantitative","scale":{"domain":[9,19],"reverse":true,"nice":false,"zero":false},
        "axis":{"orient":"left","values":[10,11,12,13,14,15,16,17,18],"labels":false,"ticks":true,"tickSize":-16,"grid":true,"title":null}}}},
 {"data":{"name":"ax"},"mark":{"type":"point","opacity":0},
  "encoding":{
   "x":{"field":"jd","type":"quantitative","scale":{"domain":[2455752.6,2456112.2],"nice":false,"zero":false},
        "axis":{"orient":"bottom","values":[2455761.6,2455790.4,2455804.8,2455819.2,2455833.6,2455862.4,2455876.8,2455891.2,2455905.6,2455934.4,2455948.8,2455963.2,2455977.6,2456006.4,2456020.8,2456035.2,2456049.6,2456078.4,2456092.8,2456107.2],"labels":false,"ticks":true,"tickSize":-8,"grid":false,"title":null}},
   "y":{"field":"m","type":"quantitative","scale":{"domain":[9,19],"reverse":true,"nice":false,"zero":false},
        "axis":{"orient":"right","values":[10,11,12,13,14,15,16,17,18],"labels":false,"ticks":true,"tickSize":-16,"grid":false,"title":null}}}},
 {"data":{"name":"ax"},"mark":{"type":"point","opacity":0},
  "encoding":{
   "x":{"field":"jd","type":"quantitative","scale":{"domain":[2455752.6,2456112.2],"nice":false,"zero":false},
        "axis":{"orient":"top","values":[2455776,2455848,2455920,2455992,2456064],"labels":false,"ticks":true,"tickSize":-16,"grid":false,"title":null}}}},
 {"data":{"name":"ax"},"mark":{"type":"point","opacity":0},
  "encoding":{
   "x":{"field":"jd","type":"quantitative","scale":{"domain":[2455752.6,2456112.2],"nice":false,"zero":false},
        "axis":{"orient":"top","values":[2455761.6,2455790.4,2455804.8,2455819.2,2455833.6,2455862.4,2455876.8,2455891.2,2455905.6,2455934.4,2455948.8,2455963.2,2455977.6,2456006.4,2456020.8,2456035.2,2456049.6,2456078.4,2456092.8,2456107.2],"labels":false,"ticks":true,"tickSize":-8,"grid":false,"title":null}}}},
 {"data":{"name":"err"},"mark":{"type":"errorbar","ticks":{"size":14},"thickness":2},
  "encoding":{
   "x":{"field":"jd","type":"quantitative","scale":{"domain":[2455752.6,2456112.2],"nice":false,"zero":false},"axis":null},
   "y":{"field":"lo","type":"quantitative","scale":{"domain":[9,19],"reverse":true,"nice":false,"zero":false},"axis":null},
   "y2":{"field":"hi"},
   "color":{"field":"s","type":"nominal","scale":{"domain":["R","I"],"range":["#ff0000","#ff5500"]},"legend":null}}},
 {"data":{"name":"pts"},"transform":[{"filter":"datum.s!='UNK' && datum.s!='FT'"}],
  "mark":{"type":"point","filled":true,"opacity":1,"size":210,"strokeWidth":5.5},
  "encoding":{
   "x":{"field":"jd","type":"quantitative","scale":{"domain":[2455752.6,2456112.2],"nice":false,"zero":false},
        "axis":{"orient":"bottom","values":[2455776,2455848,2455920,2455992,2456064],"format":"d","grid":false,"ticks":false,"labelPadding":22,"title":"Julian Date","titleX":789,"titleY":99,"titleAlign":"center","titleBaseline":"middle"}},
   "y":{"field":"m","type":"quantitative","scale":{"domain":[9,19],"reverse":true,"nice":false,"zero":false},
        "axis":{"orient":"left","values":[9,10,11,12,13,14,15,16,17,18,19],"grid":false,"ticks":false,"labelPadding":26,"labelOffset":3,"title":"Magnitude","titleX":-130,"titleY":434,"titleAngle":270,"titleAlign":"center","titleBaseline":"middle"}},
   "stroke":{"field":"s","type":"nominal","scale":{"domain":["VIS","UNK","VVAL","VPRE","B","R","I","FT"],"range":["#000000","#ff00ff","#00ff00","#00ff00","#0000ff","#ff0000","#ff5500","#555555"]},
        "legend":{"title":null,"orient":"none","legendX":697.5,"legendY":1010,"columns":2,"labelAlign":"right","labelOffset":-99,"labelFont":"Liberation Sans","labelFontSize":38,"labelColor":"#1e1e1e","labelLimit":700,"symbolSize":180,"symbolStrokeWidth":3,"rowPadding":1,"columnPadding":275,"padding":0,
        "labelExpr":"datum.label=='VIS'?'Visual Prevalidated':datum.label=='UNK'?'Unknown Prevalidated':datum.label=='VVAL'?'V Validated':datum.label=='VPRE'?'V Prevalidated':datum.label=='B'?'B Prevalidated':datum.label=='R'?'R Prevalidated':datum.label=='I'?'I Prevalidated':'Fainter Than'"}},
   "fill":{"field":"s","type":"nominal","scale":{"domain":["VIS","UNK","VVAL","VPRE","B","R","I","FT"],"range":["transparent","transparent","#00ff00","transparent","transparent","transparent","transparent","transparent"]},
        "legend":{"title":null,"orient":"none","legendX":697.5,"legendY":1010,"columns":2,"labelAlign":"right","labelOffset":-99,"labelFont":"Liberation Sans","labelFontSize":38,"labelColor":"#1e1e1e","labelLimit":700,"symbolSize":180,"symbolStrokeWidth":3,"rowPadding":1,"columnPadding":275,"padding":0,
        "labelExpr":"datum.label=='VIS'?'Visual Prevalidated':datum.label=='UNK'?'Unknown Prevalidated':datum.label=='VVAL'?'V Validated':datum.label=='VPRE'?'V Prevalidated':datum.label=='B'?'B Prevalidated':datum.label=='R'?'R Prevalidated':datum.label=='I'?'I Prevalidated':'Fainter Than'"}},
   "shape":{"field":"s","type":"nominal","scale":{"domain":["VIS","UNK","VVAL","VPRE","B","R","I","FT"],"range":["circle","diamond","circle","circle","circle","circle","circle","triangle-down"]},
        "legend":{"title":null,"orient":"none","legendX":697.5,"legendY":1010,"columns":2,"labelAlign":"right","labelOffset":-99,"labelFont":"Liberation Sans","labelFontSize":38,"labelColor":"#1e1e1e","labelLimit":700,"symbolSize":180,"symbolStrokeWidth":3,"rowPadding":1,"columnPadding":275,"padding":0,
        "labelExpr":"datum.label=='VIS'?'Visual Prevalidated':datum.label=='UNK'?'Unknown Prevalidated':datum.label=='VVAL'?'V Validated':datum.label=='VPRE'?'V Prevalidated':datum.label=='B'?'B Prevalidated':datum.label=='R'?'R Prevalidated':datum.label=='I'?'I Prevalidated':'Fainter Than'"}}}},
 {"data":{"name":"pts"},"transform":[{"filter":"datum.s=='UNK'"}],
  "mark":{"type":"point","filled":true,"opacity":1,"size":100,"strokeWidth":2},
  "encoding":{
   "x":{"field":"jd","type":"quantitative","scale":{"domain":[2455752.6,2456112.2],"nice":false,"zero":false},"axis":null},
   "y":{"field":"m","type":"quantitative","scale":{"domain":[9,19],"reverse":true,"nice":false,"zero":false},"axis":null},
   "stroke":{"field":"s","type":"nominal","scale":{"domain":["VIS","UNK","VVAL","VPRE","B","R","I","FT"],"range":["#000000","#ff00ff","#00ff00","#00ff00","#0000ff","#ff0000","#ff5500","#555555"]}},
   "fill":{"field":"s","type":"nominal","scale":{"domain":["VIS","UNK","VVAL","VPRE","B","R","I","FT"],"range":["transparent","transparent","#00ff00","transparent","transparent","transparent","transparent","transparent"]}},
   "shape":{"field":"s","type":"nominal","scale":{"domain":["VIS","UNK","VVAL","VPRE","B","R","I","FT"],"range":["circle","diamond","circle","circle","circle","circle","circle","triangle-down"]}}}},
 {"data":{"name":"pts"},"transform":[{"filter":"datum.s=='FT'"}],
  "mark":{"type":"point","filled":true,"opacity":1,"size":220,"strokeWidth":2},
  "encoding":{
   "x":{"field":"jd","type":"quantitative","scale":{"domain":[2455752.6,2456112.2],"nice":false,"zero":false},"axis":null},
   "y":{"field":"m","type":"quantitative","scale":{"domain":[9,19],"reverse":true,"nice":false,"zero":false},"axis":null},
   "stroke":{"field":"s","type":"nominal","scale":{"domain":["VIS","UNK","VVAL","VPRE","B","R","I","FT"],"range":["#000000","#ff00ff","#00ff00","#00ff00","#0000ff","#ff0000","#ff5500","#555555"]}},
   "fill":{"field":"s","type":"nominal","scale":{"domain":["VIS","UNK","VVAL","VPRE","B","R","I","FT"],"range":["transparent","transparent","#00ff00","transparent","transparent","transparent","transparent","transparent"]}},
   "shape":{"field":"s","type":"nominal","scale":{"domain":["VIS","UNK","VVAL","VPRE","B","R","I","FT"],"range":["circle","diamond","circle","circle","circle","circle","circle","triangle-down"]}}}}
],
"resolve":{"axis":{"x":"independent","y":"independent"}}
}
